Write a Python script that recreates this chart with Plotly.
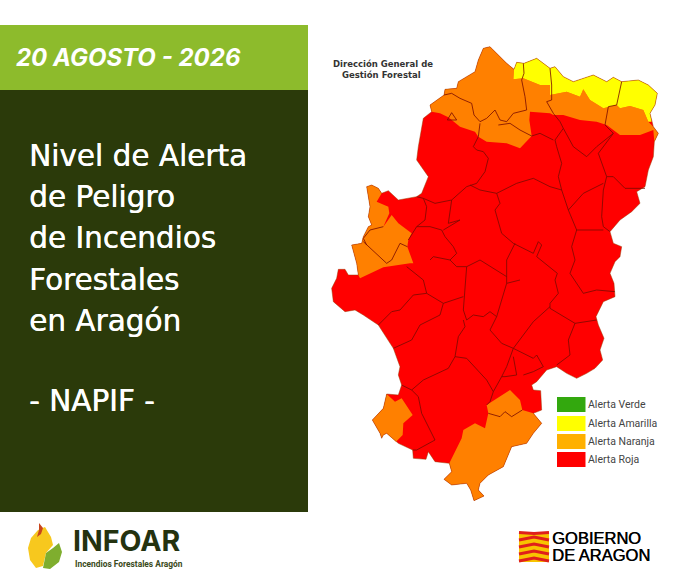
# Imports.
import plotly.graph_objects as go

# Data. Map outlines are in map units (3 units = 1 pixel).
outline = [(490, 55), (510, 50), (535, 75), (560, 100), (582, 118), (590, 97), (612, 100), (650, 85), (690, 115),
           (705, 110), (730, 140), (760, 155), (820, 135), (860, 155), (880, 142), (905, 155), (955, 150), (985, 165),
           (1012, 190), (1005, 225), (990, 250), (1000, 290), (1015, 310), (1003, 335), (1000, 380), (985, 420),
           (975, 470), (950, 485), (960, 520), (935, 545), (900, 570), (870, 605), (880, 640), (905, 650), (900, 680),
           (885, 695), (870, 730), (882, 760), (885, 800), (850, 815), (828, 860), (835, 885), (852, 925), (840, 960),
           (848, 990), (825, 1015), (800, 1030), (770, 1045), (740, 1030), (710, 1010), (680, 1020), (650, 1055),
           (635, 1065), (640, 1080), (662, 1082), (665, 1140), (640, 1150), (665, 1180), (640, 1210), (620, 1240),
           (575, 1250), (550, 1310), (505, 1335), (480, 1360), (475, 1380), (492, 1398), (462, 1412), (452, 1380),
           (440, 1360), (395, 1365), (372, 1348), (395, 1325), (388, 1300), (345, 1295), (325, 1265), (318, 1288),
           (280, 1285), (278, 1260), (235, 1240), (200, 1210), (190, 1215), (185, 1225), (180, 1210), (157, 1170),
           (190, 1135), (200, 1092), (235, 1095), (245, 1065), (235, 1035), (240, 1010), (220, 955), (175, 885),
           (130, 855), (105, 840), (75, 845), (40, 815), (35, 775), (50, 745), (55, 718), (75, 718), (85, 735),
           (115, 735), (110, 700), (95, 645), (125, 640), (130, 620), (145, 590), (155, 585), (145, 560), (150, 530),
           (140, 470), (155, 465), (175, 475), (185, 490), (205, 482), (235, 510), (290, 500), (305, 490), (325, 440),
           (290, 390), (295, 350), (310, 265), (335, 245), (330, 225), (372, 195), (375, 178), (410, 175), (415, 155),
           (465, 125), (475, 90)]

orange_zones = [
    [(335, 245), (330, 225), (372, 195), (375, 178), (410, 175), (415, 155), (465, 125), (475, 90), (490, 55),
     (510, 50), (535, 75), (560, 100), (582, 118), (580, 148), (610, 145), (660, 165), (690, 165), (690, 195),
     (740, 185), (780, 200), (790, 178), (810, 210), (850, 235), (890, 225), (900, 235), (930, 228), (970, 240),
     (985, 275), (1000, 290), (1015, 310), (1003, 335), (1000, 300), (960, 315), (900, 315), (860, 285), (830, 275),
     (780, 270), (730, 255), (700, 255), (690, 250), (630, 245), (628, 270), (635, 318), (600, 355), (560, 340),
     (500, 335), (475, 320), (465, 305), (420, 290), (385, 262), (360, 250)],
    [(95, 645), (125, 640), (130, 620), (145, 590), (155, 585), (145, 560), (150, 530), (140, 470), (155, 465),
     (175, 475), (185, 490), (170, 515), (205, 530), (208, 550), (190, 590), (215, 555), (235, 580), (275, 610),
     (265, 630), (262, 650), (280, 700), (270, 700), (190, 712), (120, 745), (115, 735), (110, 700)],
    [(157, 1170), (190, 1135), (200, 1092), (225, 1115), (245, 1105), (278, 1155), (250, 1180), (248, 1215),
     (228, 1235), (200, 1210), (190, 1215), (185, 1225), (180, 1210)],
    [(500, 1125), (570, 1080), (600, 1110), (607, 1140), (640, 1150), (665, 1180), (640, 1210), (620, 1240),
     (575, 1250), (550, 1310), (505, 1335), (480, 1360), (475, 1380), (492, 1398), (462, 1412), (452, 1380),
     (440, 1360), (395, 1365), (372, 1348), (395, 1325), (388, 1300), (425, 1225), (430, 1200), (465, 1180),
     (495, 1195), (505, 1150)],
]

yellow_zone = [(582, 118), (590, 97), (612, 100), (650, 85), (690, 115), (705, 110), (730, 140), (760, 155),
               (820, 135), (860, 155), (880, 142), (905, 155), (955, 150), (985, 165), (1012, 190), (1005, 225),
               (990, 250), (995, 275), (985, 275), (970, 240), (930, 228), (900, 235), (890, 225), (850, 235),
               (810, 210), (790, 178), (780, 200), (740, 185), (690, 195), (690, 165), (660, 165), (610, 145),
               (580, 148)]

comarca_lines = [
    [(372, 195), (395, 190), (420, 205), (455, 220), (462, 255), (480, 275), (500, 265), (525, 240), (540, 270),
     (560, 275), (580, 250), (620, 240), (615, 200), (605, 150), (612, 130), (610, 100)],
    [(535, 285), (570, 280), (600, 300), (635, 318), (660, 310), (700, 330)],
    [(480, 280), (475, 320), (460, 350), (470, 360), (490, 365), (505, 385), (495, 425), (470, 460), (440, 470),
     (395, 510), (345, 520), (310, 505), (290, 500)],
    [(690, 115), (695, 165), (695, 210), (680, 215), (700, 250), (720, 275), (730, 295), (705, 330), (710, 350),
     (725, 400), (715, 440), (725, 480), (690, 470), (640, 445), (590, 460), (530, 490), (480, 480), (450, 465)],
    [(730, 295), (760, 350), (800, 380), (830, 350), (880, 310), (855, 285), (865, 230), (890, 225), (905, 155)],
    [(880, 310), (835, 370), (860, 440), (880, 440), (915, 475), (975, 475)],
    [(860, 440), (850, 480), (845, 560), (850, 590), (870, 605)],
    [(725, 480), (745, 540), (790, 490), (850, 460)],
    [(745, 540), (770, 600), (850, 600)],
    [(770, 600), (755, 650), (765, 690), (750, 730), (790, 790), (830, 780), (885, 785)],
    [(530, 490), (540, 520), (525, 540), (545, 610), (580, 640), (640, 670), (655, 635), (665, 645), (650, 680),
     (712, 730), (705, 750), (715, 790), (690, 820), (690, 835), (765, 880), (830, 870)],
    [(690, 830), (640, 875), (580, 955), (640, 985), (650, 975), (670, 1010), (640, 1025), (610, 1035)],
    [(765, 880), (745, 930), (750, 975), (710, 1005)],
    [(585, 640), (560, 690), (560, 760), (530, 860), (510, 900), (545, 940), (580, 955), (560, 1010), (545, 1040),
     (555, 1040), (590, 1035), (580, 980)],
    [(600, 750), (560, 760)],
    [(440, 710), (435, 790), (430, 840), (440, 870), (460, 855), (490, 860), (510, 845), (530, 860)],
    [(440, 710), (480, 690), (560, 740)],
    [(260, 710), (310, 750), (320, 790), (370, 820), (430, 800)],
    [(320, 790), (280, 795), (240, 840), (215, 845), (175, 885)],
    [(370, 820), (360, 855), (300, 885), (275, 930), (220, 955)],
    [(430, 870), (435, 890), (415, 920), (405, 980), (440, 985), (500, 1050), (520, 1085), (510, 1115), (500, 1125)],
    [(405, 980), (385, 1015), (310, 1050), (275, 1080), (245, 1065)],
    [(275, 1080), (295, 1100), (305, 1150), (345, 1230), (290, 1260), (278, 1260)],
    [(505, 1150), (540, 1160), (555, 1145), (575, 1160), (607, 1140)],
    [(545, 1040), (520, 1085)],
    [(310, 505), (320, 530), (315, 570), (290, 590), (265, 630)],
    [(290, 590), (330, 590), (365, 600), (375, 620), (400, 650), (410, 670), (390, 690), (340, 680), (330, 690)],
    [(395, 510), (385, 580), (420, 570), (370, 600)],
    [(390, 690), (410, 710), (440, 710)],
    [(395, 248), (410, 270), (382, 270), (395, 248)],
    [(140, 645), (130, 625), (150, 600), (190, 590)],
    [(130, 635), (200, 700), (215, 690), (240, 640), (262, 650)],
]

legend_labels = ['Alerta Verde', 'Alerta Amarilla', 'Alerta Naranja', 'Alerta Roja']
legend_colors = ['#33a80e', '#ffff00', '#ffb000', '#ff0000']
legend_tops = [397, 416, 434, 452]

title_lines = ['Nivel de Alerta', 'de Peligro', 'de Incendios', 'Forestales', 'en Aragón']
title_ys = [156, 197, 238, 280, 321]

# Logo shapes, in pixels.
flame_yellow = [(28, 548), (31, 538), (38, 530), (45, 527), (51, 537), (53, 545), (46, 553), (43, 566), (36, 568),
                (30, 560)]
flame_red = [(39, 523), (43, 528), (41, 534), (37, 537), (39, 530)]
flame_leaf = [(43, 568), (46, 553), (53, 548), (59, 543), (62, 552), (59, 562), (50, 569)]

flag_bands = [[532.5, 533.5, 532.5], [540, 537, 540], [547, 544, 547], [554, 551, 554], [561, 558, 561]]
flag_xs = [519, 534, 549]


# Functions.
def map_x(points):
    return [320 + p[0] / 3 for p in points]


def map_y(points):
    return [30 + p[1] / 3 for p in points]


def add_fill(fig, xs, ys, color):
    fig.add_trace(go.Scatter(x=xs, y=ys, mode='lines', fill='toself', fillcolor=color,
                             line=dict(width=0), hoverinfo='skip', showlegend=False))


def add_zone(fig, points, color):
    add_fill(fig, map_x(points), map_y(points), color)


def add_logo_part(fig, points, color):
    add_fill(fig, [p[0] for p in points], [p[1] for p in points], color)


def add_text(fig, x, y, text, size, color, family='Inter', anchor='left', shadow=None):
    fig.add_annotation(x=x, y=y, text=text, showarrow=False, xanchor=anchor, yanchor='middle',
                       font=dict(family=family, size=size, color=color, shadow=shadow))


# Create figure.
fig = go.Figure()

# Panels.
fig.add_shape(type='rect', x0=0, x1=308, y0=25, y1=90, fillcolor='#8dbb2c', line_width=0, layer='below')
fig.add_shape(type='rect', x0=0, x1=308, y0=90, y1=512, fillcolor='#2b3a0a', line_width=0, layer='below')

# Map zones.
add_zone(fig, outline, '#ff0000')
for zone in orange_zones:
    add_zone(fig, zone, '#ff8000')
add_zone(fig, yellow_zone, '#ffff00')

# Comarca borders and outer border.
for line in comarca_lines:
    fig.add_trace(go.Scatter(x=map_x(line), y=map_y(line), mode='lines', hoverinfo='skip', showlegend=False,
                             line=dict(color='rgba(120,10,0,0.8)', width=1)))
closed = outline + outline[:1]
fig.add_trace(go.Scatter(x=map_x(closed), y=map_y(closed), mode='lines', hoverinfo='skip', showlegend=False,
                         line=dict(color='rgba(150,60,0,0.6)', width=0.8)))

# Logos.
add_logo_part(fig, flame_yellow, '#f7c81e')
add_logo_part(fig, flame_red, '#c8451c')
add_logo_part(fig, flame_leaf, '#7fae2e')
fig.add_shape(type='rect', x0=519, x1=549, y0=532, y1=562, fillcolor='#f8c400', line_width=0, layer='below')
for band in flag_bands:
    fig.add_trace(go.Scatter(x=flag_xs, y=band, mode='lines', hoverinfo='skip', showlegend=False,
                             line=dict(color='#e0201b', width=3)))

# Legend.
for label, color, top in zip(legend_labels, legend_colors, legend_tops):
    fig.add_shape(type='rect', x0=557, x1=585.5, y0=top, y1=top + 15, fillcolor=color, line_width=0)
    add_text(fig, 586, top + 7.5, label, 10.5, '#444444', family='Roboto')

# Texts.
add_text(fig, 14, 57, '<b><i>20 AGOSTO - 2026</i></b>', 24, '#ffffff')
for line, y in zip(title_lines, title_ys):
    add_text(fig, 27, y, line, 29.5, '#ffffff', family='DejaVu Sans', shadow='0.4px 0 0 #ffffff')
add_text(fig, 27, 401, '- NAPIF -', 29.5, '#ffffff', family='DejaVu Sans', shadow='0.4px 0 0 #ffffff')
add_text(fig, 383, 64, '<b>Dirección General de</b>', 8.5, '#333333', family='DejaVu Sans', anchor='center')
add_text(fig, 381, 75, '<b>Gestión Forestal</b>', 8.5, '#333333', family='DejaVu Sans', anchor='center')
add_text(fig, 71, 540, '<b>INFOAR</b>', 28.5, '#24320f', family='Inter')
add_text(fig, 73, 564, '<b>Incendios Forestales Aragón</b>', 8.4, '#3a4a20', family='Roboto')
add_text(fig, 550, 538, 'GOBIERNO', 16.5, '#000000', family='Liberation Sans', shadow='0.5px 0 0 #000000')
add_text(fig, 550, 555, 'DE ARAGON', 16.5, '#000000', family='Liberation Sans', shadow='0.5px 0 0 #000000')

# Layout.
fig.update_xaxes(range=[0, 690], visible=False, fixedrange=True)
fig.update_yaxes(range=[579, 0], visible=False, fixedrange=True)
fig.update_layout(width=690, height=579, margin=dict(l=0, r=0, t=0, b=0), paper_bgcolor='white',
                  plot_bgcolor='white', showlegend=False)

# Save fig. The page margin is removed so that the figure fills the window.
fig.write_html("out.html", config={'displayModeBar': False}, post_script="document.body.style.margin = '0';")
